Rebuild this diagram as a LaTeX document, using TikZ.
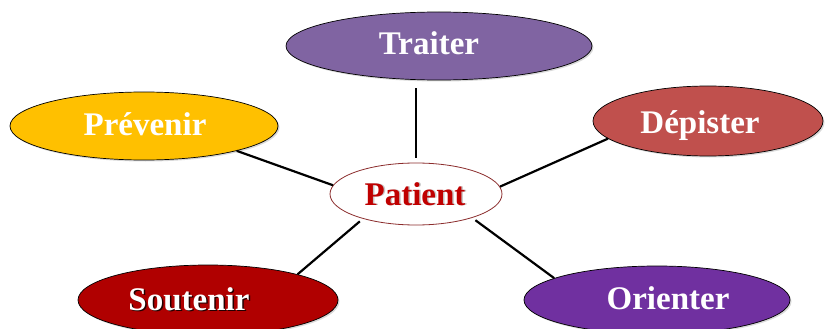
\documentclass[tikz,border=0pt]{standalone}
\usepackage{fontspec}
\setmainfont{Liberation Serif}
\usetikzlibrary{shapes.geometric,shadows}
\definecolor{ctraiter}{HTML}{8064A2}
\definecolor{cprevenir}{HTML}{FFC000}
\definecolor{cdepister}{HTML}{C0504D}
\definecolor{csoutenir}{HTML}{B00000}
\definecolor{corienter}{HTML}{7030A0}
\definecolor{cpatborder}{HTML}{8B2C2C}
\definecolor{cpattext}{HTML}{C00000}
\begin{document}
\begin{tikzpicture}[x=1pt,y=-1pt,
  bub/.style={ellipse, draw=black, line width=0.7pt, inner sep=0pt,
    drop shadow={shadow xshift=1.5pt,shadow yshift=-1.5pt,opacity=0.3}},
  lab/.style={anchor=base, inner sep=0pt, font=\fontsize{33}{36}\selectfont\bfseries, text=white},
  shad/.style={lab, text=black, opacity=0.8},
  conn/.style={line width=2.2pt}]
\useasboundingbox (0,0) rectangle (825,329);
\node[bub, fill=ctraiter, minimum width=306pt, minimum height=68pt] (traiter) at (439,46) {};
\node[bub, fill=cprevenir, minimum width=268pt, minimum height=68pt] (prevenir) at (144,126) {};
\node[bub, fill=cdepister, minimum width=230pt, minimum height=70pt] (depister) at (708,121) {};
\node[ellipse, draw=cpatborder, fill=white, line width=0.8pt, inner sep=0pt, minimum width=172pt, minimum height=62pt] (patient) at (416,194) {};
\node[bub, fill=csoutenir, minimum width=260pt, minimum height=70pt] (soutenir) at (208,300) {};
\node[bub, fill=corienter, minimum width=266pt, minimum height=68pt] (orienter) at (657,300) {};

\node[lab] (ltraiter) at (429,55) {Traiter};
\node[lab] (lprevenir) at (145,135) {Prévenir};
\node[lab] (ldepister) at (700,133) {Dépister};
\node[lab, text=gray!60, opacity=0.7] (lpatients) at (416.5,205.5) {Patient};
\node[lab, text=cpattext] (lpatient) at (415,205) {Patient};
\node[shad] (lsoutenirs) at (190.5,311.5) {Soutenir};
\node[lab] (lsoutenir) at (189,310) {Soutenir};
\node[lab] (lorienter) at (668,309) {Orienter};

\draw[conn, shorten <=5pt, shorten >=8pt] (patient.north) -- (patient.north |- traiter.south);
\draw[conn] (patient.174) -- (prevenir.-15);
\draw[conn] (patient.5) -- (depister.-170);
\draw[conn, shorten <=4pt] (patient.205) -- (soutenir.16);
\draw[conn, shorten <=4pt] (patient.-23) -- (orienter.168);
\end{tikzpicture}
\end{document}
